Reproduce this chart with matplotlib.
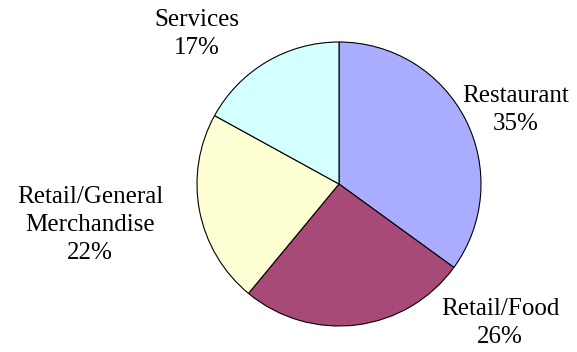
import matplotlib.pyplot as plt

# share of businesses by category
categories = ["Restaurant", "Retail/Food", "Retail/General\nMerchandise", "Services"]
shares = [35, 26, 22, 17]
colors = ["#AAACFF", "#A84A77", "#FFFFD4", "#D4FFFF"]

# label block centres, in figure pixels (x from left, y from top)
label_pos = [(516, 110), (500, 323), (90, 225), (197, 34)]

W, H = 577, 352
fig = plt.figure(figsize=(W / 100, H / 100), dpi=100)
ax = fig.add_axes([0, 0, 1, 1])

# pie drawn in pixel coordinates; y axis is flipped, so start at -90
# and go counterclockwise in data space (clockwise on screen)
ax.pie(shares, colors=colors, startangle=-90, counterclock=True,
       center=(339, 184), radius=142, frame=True,
       wedgeprops=dict(edgecolor="black", linewidth=0.8))
ax.set_xlim(0, W)
ax.set_ylim(H, 0)
ax.axis("off")

for name, pct, (x, y) in zip(categories, shares, label_pos):
    ax.text(x, y, f"{name}\n{pct}%", ha="center", va="center",
            fontsize=18, family="Liberation Serif", linespacing=1.33)

fig.savefig("out.png", dpi=100)
